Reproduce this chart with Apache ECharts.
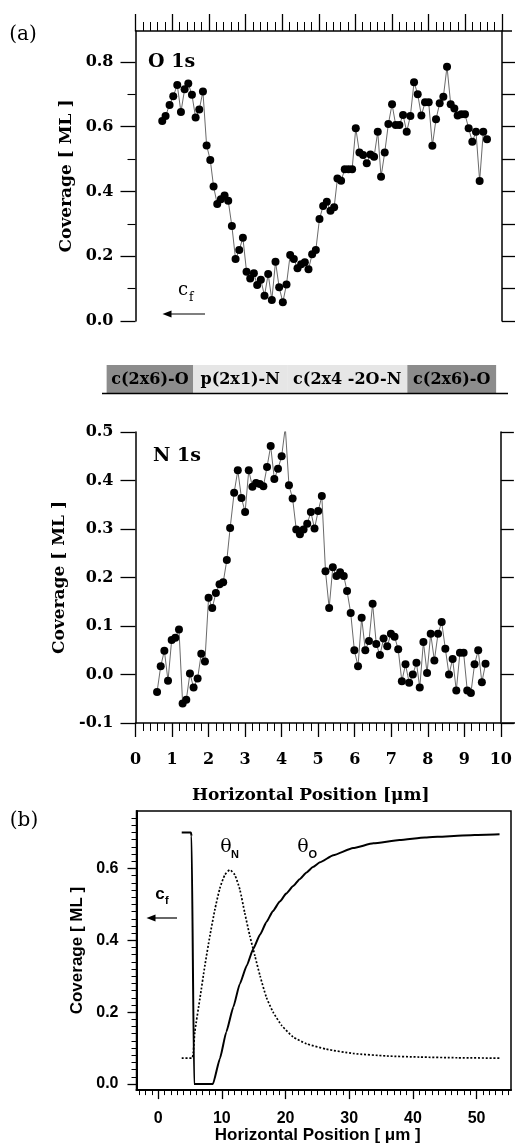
<!DOCTYPE html>
<html><head><meta charset="utf-8">
<script src="https://cdn.jsdelivr.net/npm/echarts@6/dist/echarts.min.js"></script>
<style>html,body{margin:0;padding:0;background:#fff}#c{width:515px;height:1145px}</style>
</head><body><div id="c"></div>
<script>
// ---- (a) O 1s coverage ----
const oX=[0.73,0.82,0.93,1.03,1.14,1.24,1.34,1.44,1.54,1.64,1.74,1.84,1.94,2.04,2.13,2.23,2.33,2.43,2.53,2.63,2.73,2.83,2.93,3.03,3.13,3.23,3.32,3.42,3.52,3.62,3.72,3.82,3.92,4.02,4.12,4.22,4.32,4.42,4.52,4.62,4.72,4.82,4.92,5.02,5.12,5.22,5.32,5.42,5.51,5.61,5.71,5.81,5.91,6.01,6.11,6.21,6.31,6.41,6.51,6.61,6.70,6.80,6.90,7.00,7.10,7.20,7.30,7.40,7.50,7.60,7.70,7.80,7.90,8.00,8.10,8.20,8.30,8.40,8.50,8.60,8.70,8.79,8.89,8.99,9.09,9.19,9.29,9.39,9.49,9.59];
const oY=[0.617,0.633,0.667,0.694,0.728,0.645,0.715,0.733,0.698,0.628,
0.653,0.708,0.542,0.497,0.415,0.361,0.376,0.387,0.371,0.293,
0.191,0.219,0.257,0.152,0.131,0.147,0.111,0.127,0.078,0.145,
0.065,0.183,0.104,0.058,0.113,0.204,0.191,0.163,0.175,0.181,
0.160,0.206,0.219,0.315,0.355,0.368,0.340,0.351,0.440,0.433,
0.468,0.468,0.468,0.595,0.520,0.512,0.487,0.514,0.507,0.584,
0.445,0.520,0.608,0.669,0.605,0.605,0.636,0.584,0.633,0.737,
0.700,0.634,0.675,0.675,0.541,0.623,0.672,0.692,0.785,0.669,
0.656,0.634,0.638,0.638,0.595,0.553,0.584,0.432,0.584,0.561];
// ---- (a) N 1s coverage ----
const nX=[0.59,0.69,0.79,0.89,0.99,1.09,1.19,1.29,1.39,1.49,1.59,1.70,1.80,1.90,2.00,2.10,2.20,2.30,2.40,2.50,2.59,2.70,2.80,2.90,3.00,3.10,3.20,3.30,3.40,3.50,3.60,3.70,3.80,3.90,4.00,4.10,4.20,4.30,4.40,4.50,4.60,4.70,4.80,4.90,5.00,5.10,5.20,5.30,5.40,5.50,5.60,5.70,5.79,5.89,5.99,6.09,6.19,6.29,6.39,6.49,6.59,6.69,6.79,6.89,6.99,7.09,7.19,7.29,7.39,7.49,7.59,7.69,7.78,7.88,7.98,8.08,8.18,8.28,8.38,8.48,8.58,8.68,8.78,8.88,8.98,9.08,9.18,9.28,9.38,9.48,9.58];
const nY=[-0.036,0.017,0.049,-0.013,0.071,0.076,0.093,-0.060,-0.052,0.002,
-0.027,-0.008,0.043,0.027,0.158,0.137,0.168,0.186,0.190,0.236,
0.302,0.375,0.421,0.364,0.335,0.421,0.387,0.395,0.393,0.388,
0.428,0.471,0.403,0.424,0.450,0.510,0.390,0.363,0.299,0.289,
0.299,0.311,0.335,0.301,0.337,0.368,0.213,0.137,0.221,0.203,
0.211,0.203,0.172,0.127,0.050,0.017,0.117,0.050,0.069,0.146,
0.063,0.040,0.074,0.058,0.084,0.078,0.052,-0.014,0.021,-0.017,
0.000,0.024,-0.027,0.067,0.003,0.084,0.029,0.084,0.108,0.053,
0.000,0.032,-0.033,0.045,0.045,-0.033,-0.038,0.021,0.050,-0.016,
0.022];
// ---- (b) model curves ----
const thetaOX=[3.7,5.15,5.25,5.65,8.6,9.7,10.7,11.8,12.8,13.9,14.9,16.0,17.0,18.0,19.1,20.1,21.2,22.2,23.3,24.3,25.4,27.5,30.6,33.8,37.9,41.9,45.8,49.7,53.6];
const thetaOY=[0.70,0.70,0.69,0.0,0.0,0.071,0.145,0.214,0.278,0.329,0.375,0.416,0.451,0.481,0.508,0.530,0.551,0.570,0.589,0.604,0.617,0.637,0.657,0.670,0.679,0.686,0.690,0.693,0.695];
const thetaNX=[3.7,5.3,5.5,5.76,6.55,7.33,8.12,8.9,9.69,10.47,11.26,12.04,12.83,13.6,14.4,15.2,16.0,17.0,18.05,19.4,21.2,23.3,26.4,30.6,35.9,41.0,47.0,53.6];
const thetaNY=[0.072,0.072,0.085,0.145,0.237,0.329,0.412,0.485,0.545,0.582,0.596,0.582,0.541,0.476,0.412,0.356,0.301,0.241,0.200,0.163,0.131,0.112,0.097,0.085,0.078,0.075,0.073,0.072];
// ---- ticks ----
const oMajorTicks=[0,0.2,0.4,0.6,0.8];
const oMinorTicks=[0.1,0.3,0.5,0.7];
const oRightTicks=[0,0.1,0.2,0.3,0.4,0.5,0.6,0.7,0.8];
const nTicks=[-0.1,0,0.1,0.2,0.3,0.4,0.5];
const bYMajor=[0,0.2,0.4,0.6];
const bYMinor=[0,0.02,0.04,0.06,0.08,0.1,0.12,0.14,0.16,0.18,0.2,0.22,0.24,0.26,0.28,0.3,0.32,0.34,0.36,0.38,0.4,0.42,0.44,0.46,0.48,0.5,0.52,0.54,0.56,0.58,0.6,0.62,0.64,0.66,0.68,0.7,0.72,0.74];
const bXMajor=[0,10,20,30,40,50];
const bXMinor=[-3,-2,-1,0,1,2,3,4,5,6,7,8,9,10,11,12,13,14,15,16,17,18,19,20,21,22,23,24,25,26,27,28,29,30,31,32,33,34,35,36,37,38,39,40,41,42,43,44,45,46,47,48,49,50,51,52,53,54,55];
// ---- phase band ----
const bandLabels=['c(2x6)-O','p(2x1)-N','c(2x4 -2O-N','c(2x6)-O'];
const bandFrom=[-0.79,1.58,4.15,7.44];
const bandTo=[1.58,4.15,7.44,9.87];
const bandDark=[true,false,false,true];

const SERIF='DejaVu Serif', SANS='Liberation Sans';
const K='#000';
const lineS=(w)=>({color:K,width:w});
const fmt1=v=>v.toFixed(1);
const fmt0=v=>String(Math.round(v));

function yAx(o){return Object.assign({type:'value',splitLine:{show:false},axisLine:{show:true,onZero:false,lineStyle:lineS(1.5)},axisTick:{show:true,lineStyle:lineS(1.3)},axisLabel:{show:false}},o);}
function xAx(o){return Object.assign({type:'value',splitLine:{show:false},axisLine:{show:true,onZero:false,lineStyle:lineS(1.5)},axisTick:{show:true,lineStyle:lineS(1.3)},axisLabel:{show:false}},o);}

const chart=echarts.init(document.getElementById('c'),null,{renderer:'canvas'});
const option={
  animation:false,
  backgroundColor:'#fff',
  grid:[
    {left:135.5,width:366.5,top:31,height:290},
    {left:135.5,width:366.5,top:432,height:291},
    {left:136.5,width:374.5,top:811,height:281,show:true,borderColor:K,borderWidth:1.5,backgroundColor:'transparent'}
  ],
  xAxis:[
    xAx({gridIndex:0,min:0,max:10,interval:1,position:'top',axisTick:{show:true,length:17,lineStyle:lineS(1.3)},minorTick:{show:true,splitNumber:5,length:9,lineStyle:lineS(1)}}),
    xAx({gridIndex:1,min:0,max:10,interval:1,position:'bottom',axisTick:{show:true,length:14,lineStyle:lineS(1.3)},minorTick:{show:true,splitNumber:5,length:8,lineStyle:lineS(1)},
      axisLabel:{show:true,margin:29,formatter:fmt0,color:K,fontFamily:SERIF,fontWeight:'bold',fontSize:16},
      name:'Horizontal Position [μm]',nameLocation:'middle',nameGap:64,nameTextStyle:{color:K,fontFamily:SERIF,fontWeight:'bold',fontSize:17,padding:[0,15,0,0]}}),
    xAx({gridIndex:2,min:-3.4,max:55.4,position:'bottom',axisLine:{show:true,onZero:false,lineStyle:lineS(2)},axisTick:{show:true,length:9,customValues:bXMajor,lineStyle:lineS(1.3)},
      axisLabel:{show:true,customValues:bXMajor,margin:20,formatter:fmt0,color:K,fontFamily:SANS,fontWeight:'bold',fontSize:16},
      name:'Horizontal Position [ μm ]',nameLocation:'middle',nameGap:31,nameTextStyle:{color:K,fontFamily:SANS,fontWeight:'bold',fontSize:17,padding:[0,12,0,0]}}),
    xAx({gridIndex:2,min:-3.4,max:55.4,position:'bottom',axisLine:{show:false,onZero:false},axisTick:{show:true,length:5,customValues:bXMinor,lineStyle:lineS(1)}})
  ],
  yAxis:[
    yAx({gridIndex:0,min:0,max:0.895,position:'left',axisTick:{show:true,length:15,customValues:oMajorTicks,lineStyle:lineS(1.3)},
      axisLabel:{show:true,customValues:oMajorTicks,margin:22,formatter:fmt1,color:K,fontFamily:SERIF,fontWeight:'bold',fontSize:16},
      name:'Coverage [ ML ]',nameLocation:'middle',nameGap:56,nameRotate:90,nameTextStyle:{color:K,fontFamily:SERIF,fontWeight:'bold',fontSize:17}}),
    yAx({gridIndex:0,min:0,max:0.895,position:'left',axisLine:{show:false,onZero:false},axisTick:{show:true,length:8,customValues:oMinorTicks,lineStyle:lineS(1.1)}}),
    yAx({gridIndex:0,min:0,max:0.895,position:'right',axisTick:{show:true,length:13,customValues:oRightTicks,lineStyle:lineS(1.3)}}),
    yAx({gridIndex:1,min:-0.1,max:0.5,position:'left',axisTick:{show:true,length:15,customValues:nTicks,lineStyle:lineS(1.3)},
      axisLabel:{show:true,customValues:nTicks,margin:22,formatter:fmt1,color:K,fontFamily:SERIF,fontWeight:'bold',fontSize:16},
      name:'Coverage [ ML ]',nameLocation:'middle',nameGap:56,nameRotate:90,nameTextStyle:{color:K,fontFamily:SERIF,fontWeight:'bold',fontSize:17}}),
    yAx({gridIndex:1,min:-0.1,max:0.5,position:'right',axisTick:{show:true,length:13,customValues:nTicks,lineStyle:lineS(1.3)}}),
    yAx({gridIndex:2,min:-0.017,max:0.76,position:'left',axisLine:{show:true,onZero:false,lineStyle:lineS(2)},axisTick:{show:true,length:9,customValues:bYMajor,lineStyle:lineS(1.3)},
      axisLabel:{show:true,customValues:bYMajor,margin:18,formatter:fmt1,color:K,fontFamily:SANS,fontWeight:'bold',fontSize:16},
      name:'Coverage [ ML ]',nameLocation:'middle',nameGap:50,nameRotate:90,nameTextStyle:{color:K,fontFamily:SANS,fontWeight:'bold',fontSize:17}}),
    yAx({gridIndex:2,min:-0.017,max:0.76,position:'left',axisLine:{show:false,onZero:false},axisTick:{show:true,length:5,customValues:bYMinor,lineStyle:lineS(1)}})
  ],
  series:[
    {type:'line',xAxisIndex:0,yAxisIndex:0,data:oX.map((x,i)=>[x,oY[i]]),symbol:'circle',symbolSize:8,itemStyle:{color:K},lineStyle:{color:'#444',width:0.8},clip:true,silent:true},
    {type:'line',xAxisIndex:1,yAxisIndex:3,data:nX.map((x,i)=>[x,nY[i]]),symbol:'circle',symbolSize:8,itemStyle:{color:K},lineStyle:{color:'#444',width:0.8},clip:true,silent:true},
    {type:'line',xAxisIndex:2,yAxisIndex:5,data:thetaOX.map((x,i)=>[x,thetaOY[i]]),symbol:'none',smooth:0.15,smoothMonotone:'x',lineStyle:{color:K,width:2},silent:true},
    {type:'line',xAxisIndex:2,yAxisIndex:5,data:thetaNX.map((x,i)=>[x,thetaNY[i]]),symbol:'none',smooth:0.2,lineStyle:{color:K,width:1.7,type:[2,1.8]},silent:true}
  ]
};
chart.setOption(option);

function txt(text,x,y,font,align,va){return {type:'text',x:x,y:y,silent:true,style:{text:text,font:font,fill:K,align:align||'center',verticalAlign:va||'middle'}};}
function arrow(x1,x2,y,w){return [
  {type:'line',silent:true,shape:{x1:x1,y1:y,x2:x2+6,y2:y},style:{stroke:K,lineWidth:w}},
  {type:'polygon',silent:true,shape:{points:[[x2,y],[x2+9,y-3.5],[x2+9,y+3.5]]},style:{fill:K}}
];}

const g=[];
g.push(txt('(a)',23,35,'normal 20px '+SERIF));
g.push(txt('(b)',24,821,'normal 20px '+SERIF));
g.push(txt('O 1s',148,62,'bold 19px '+SERIF,'left'));
g.push(txt('N 1s',153,456,'bold 19px '+SERIF,'left'));
// c_f (a)
g.push(txt('c',183,290,'normal 18px '+SERIF));
g.push(txt('f',189,298,'normal 12px '+SERIF,'left'));
arrow(205,162.5,314,1.2).forEach(e=>g.push(e));
// axis extensions
g.push({type:'line',silent:true,shape:{x1:502,y1:31,x2:512,y2:31},style:{stroke:K,lineWidth:1.5}});
g.push({type:'line',silent:true,shape:{x1:502,y1:723,x2:515,y2:723},style:{stroke:K,lineWidth:1.5}});
// phase band
for(let i=0;i<bandLabels.length;i++){
  const a=chart.convertToPixel({xAxisIndex:1},bandFrom[i]);
  const b=chart.convertToPixel({xAxisIndex:1},bandTo[i]);
  g.push({type:'rect',silent:true,shape:{x:a,y:365,width:b-a,height:28},style:{fill:bandDark[i]?'#8c8c8c':'#e6e6e6'},z:1});
  g.push(Object.assign(txt(bandLabels[i],(a+b)/2,380,'bold 16px '+SERIF),{z:2}));
}
g.push({type:'line',silent:true,shape:{x1:102,y1:393.5,x2:508,y2:393.5},style:{stroke:K,lineWidth:1.5},z:3});
// (b) annotations
g.push(txt('c',160,894,'bold 17px '+SANS));
g.push(txt('f',165,901,'bold 11px '+SANS,'left'));
arrow(177,146.5,918,1.2).forEach(e=>g.push(e));
g.push(txt('θ',226,847,'normal 19px '+SERIF));
g.push(txt('N',231,855,'bold 11px '+SANS,'left'));
g.push(txt('θ',303,847,'normal 19px '+SERIF));
g.push(txt('O',308.5,855,'bold 11px '+SANS,'left'));
chart.setOption({graphic:g});
</script></body></html>
